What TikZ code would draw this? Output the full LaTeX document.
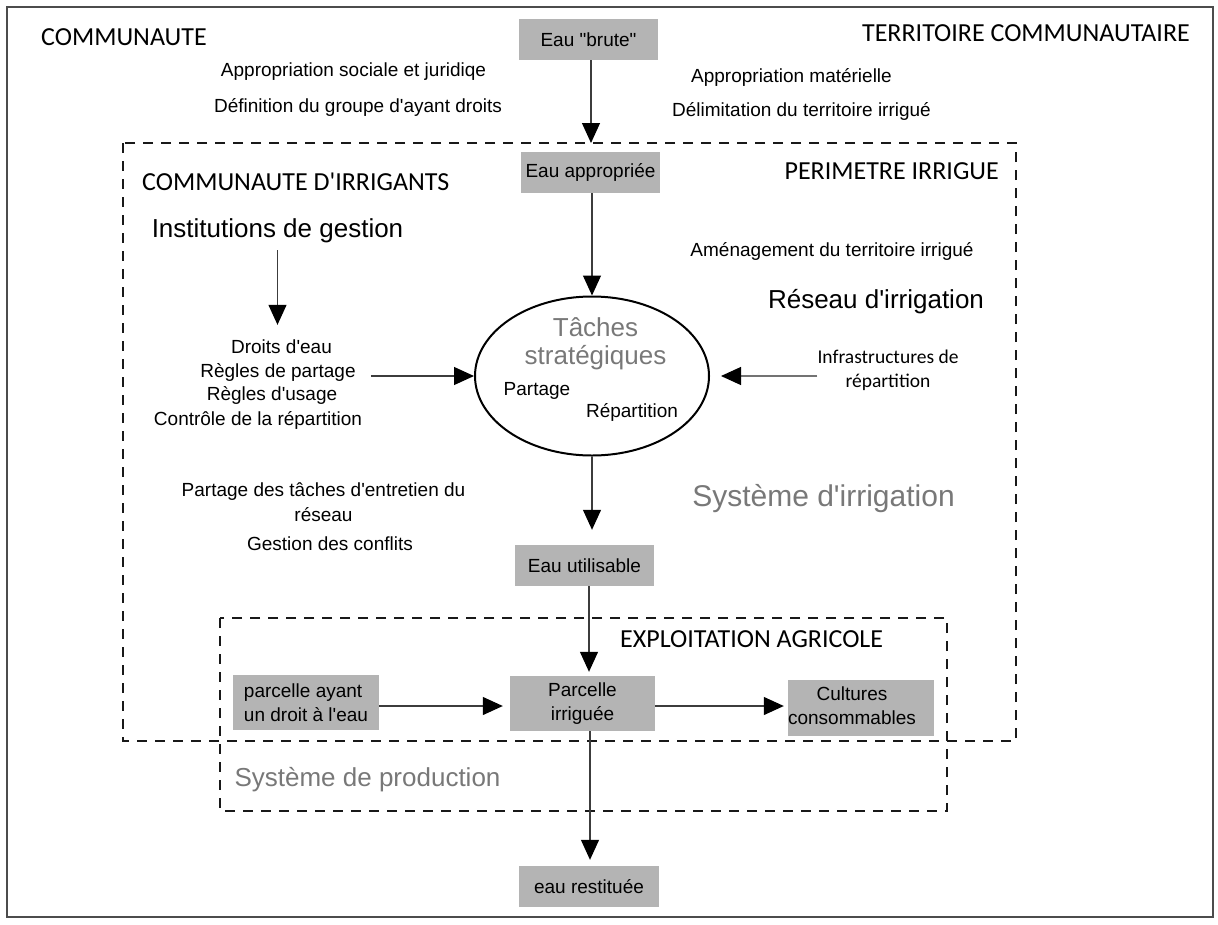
\documentclass[tikz,border=0pt]{standalone}
\usepackage{fontspec}
\setmainfont{Liberation Sans}[Ligatures=TeXOff]
\newfontfamily\myr{Carlito}[Ligatures=TeXOff]
\usetikzlibrary{arrows.meta,shapes.geometric}
\definecolor{boxgray}{RGB}{180,180,180}
\definecolor{txtgray}{RGB}{120,120,120}
\definecolor{linegray}{RGB}{60,60,60}
\begin{document}
\begin{tikzpicture}[x=1pt,y=-1pt,
  lbl/.style={inner sep=0pt, font=\fontsize{19}{23}\selectfont},
  ttl/.style={inner sep=0pt, font=\myr\fontsize{26}{30}\selectfont},
  ttlsmall/.style={inner sep=0pt, align=center, font=\myr\fontsize{19.5}{24}\selectfont},
  big/.style={inner sep=0pt, font=\fontsize{26}{30}\selectfont},
  graytxt/.style={inner sep=0pt, text=txtgray, font=\fontsize{26}{30}\selectfont},
  gbox/.style={fill=boxgray, inner sep=0pt, align=center, font=\fontsize{19}{24}\selectfont},
  arr/.style={draw=linegray, line width=1.2pt, -{Triangle[length=20pt,width=18pt,color=black]}},
  zone/.style={draw=black!90, line width=2.2pt, dash pattern=on 10pt off 8pt}
]
\useasboundingbox (0,0) rectangle (1218,924);
% outer frame
\draw[black!70, line width=1.5pt] (7,7) rectangle (1213,917);
% dashed zones
\draw[zone] (123,143) rectangle (1016,741);
\draw[zone] (220,618) rectangle (947,811);

% titles
\node[ttl, anchor=west] (tcom) at (41,37.5) {COMMUNAUTE};
\node[ttl, anchor=east] (tter) at (1190,33.5) {TERRITOIRE COMMUNAUTAIRE};
\node[ttl, anchor=west] (tirr) at (142,182) {COMMUNAUTE D'IRRIGANTS};
\node[ttl, anchor=east] (tper) at (999,171) {PERIMETRE IRRIGUE};
\node[ttl, anchor=west] (texp) at (620,639) {EXPLOITATION AGRICOLE};

% labels top
\node[lbl] (l1) at (353.5,72) {Appropriation sociale et juridiqe};
\node[lbl] (l2) at (358,107) {Définition du groupe d'ayant droits};
\node[lbl] (l3) at (791.5,77) {Appropriation matérielle};
\node[lbl] (l4) at (801.5,111) {Délimitation du territoire irrigué};
\node[lbl] (l5) at (832,251) {Aménagement du territoire irrigué};

% boxes
\node[gbox, minimum width=139pt, minimum height=41pt] (brute) at (588.5,39.5) {Eau "brute"};
\node[gbox, minimum width=139pt, minimum height=41pt] (appr) at (590.5,172.5) {Eau appropriée};
\node[gbox, minimum width=139pt, minimum height=41pt] (util) at (584.5,565.5) {Eau utilisable};
\node[gbox, minimum width=146pt, minimum height=55pt, align=left] (parc) at (306,702.5) {parcelle ayant\\un droit à l'eau};
\node[gbox, minimum width=145pt, minimum height=55pt] (pirr) at (582.5,703.5) {Parcelle\\irriguée};
\node[gbox, minimum width=146pt, minimum height=56pt] (cult) at (861,708) {};
\node[inner sep=0pt, align=center, font=\fontsize{19}{24}\selectfont] (culttxt) at (852,706) {Cultures\\consommables};
\node[gbox, minimum width=140pt, minimum height=41pt] (rest) at (589,886.5) {eau restituée};

% left column
\node[big] (inst) at (277.5,231) {Institutions de gestion};
\node[lbl] (dr1) at (281.5,347) {Droits d'eau};
\node[lbl] (dr2) at (278,372) {Règles de partage};
\node[lbl] (dr3) at (272,395) {Règles d'usage};
\node[lbl] (dr4) at (258,420) {Contrôle de la répartition};
\node[lbl] (pt1) at (323.5,492) {Partage des tâches d'entretien du};
\node[lbl] (pt2) at (323.5,515) {réseau};
\node[lbl] (pt3) at (330,544) {Gestion des conflits};

% right column
\node[big] (res) at (876,302) {Réseau d'irrigation};
\node[ttlsmall] (infra) at (888,370) {Infrastructures de\\répartition};
\node[graytxt, font=\fontsize{30}{34}\selectfont] (sirr) at (823.5,499) {Système d'irrigation};
\node[graytxt] (sprod) at (367.5,780) {Système de production};

% ellipse
\node[draw, ellipse, line width=2pt, minimum width=234pt, minimum height=159pt, inner sep=0pt] (ell) at (592,376) {};
\node[graytxt] (tach1) at (595.5,327) {Tâches};
\node[graytxt] (tach2) at (595.5,358) {stratégiques};
\node[lbl] (epart) at (537,391) {Partage};
\node[lbl] (erep) at (632,412) {Répartition};

% connectors
\coordinate (c1) at (591,143);
\draw[arr] (brute.south -| c1) -- (c1);
\draw[arr] (appr.south -| ell.north) -- (ell.north);
\draw[arr, shorten <=7pt, shorten >=15pt] (inst.south) -- (inst.south |- dr1.north);
\draw[arr, shorten <=15pt] (ell.west -| dr2.east) -- (ell.west);
\draw[arr, draw=black!55, shorten >=11pt] (ell.east -| infra.west) -- (ell.east);
\draw[arr, shorten >=15pt] (ell.south) -- (ell.south |- util.north);
\draw[arr, shorten >=4pt] (util.south -| 589,0) -- (pirr.north -| 589,0);
\draw[arr, shorten >=7pt] (parc.east |- 0,706) -- (pirr.west |- 0,706);
\draw[arr, shorten >=4pt] (pirr.east |- 0,706) -- (cult.west |- 0,706);
\draw[arr, shorten >=6pt] (pirr.south -| 590,0) -- (rest.north -| 590,0);
\end{tikzpicture}
\end{document}
